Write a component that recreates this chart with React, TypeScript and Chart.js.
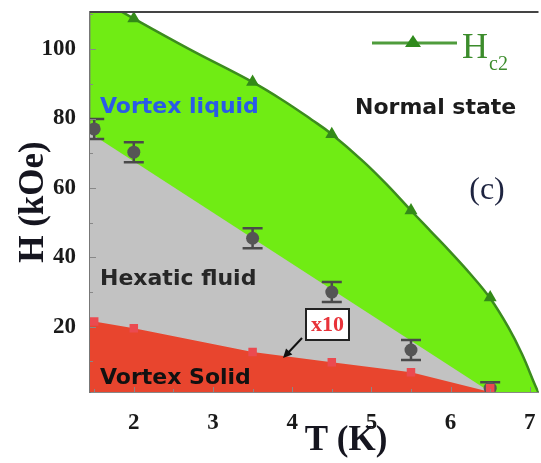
import React, { useEffect, useRef } from "react";
import { Chart, registerables } from "chart.js";

Chart.register(...registerables);

// ---- data ----
const hc2CurveT = [1.45, 2.0, 2.7, 3.5, 3.9, 4.25, 4.5, 4.9, 5.22, 5.5, 5.75, 6.0, 6.25, 6.5, 6.73, 6.9, 7.07, 7.12];
const hc2CurveH = [116, 108.8, 100, 90.5, 85, 79.6, 75.5, 67.6, 60.4, 53.5, 47.5, 41.5, 35.2, 28.2, 19.8, 12.2, 3, 0.5];

const hc2PointT = [2, 3.5, 4.5, 5.5, 6.5];
const hc2PointH = [108.8, 90.5, 75.5, 53.5, 28.4];

const hexaticBoundaryT = [1.447, 6.5];
const hexaticBoundaryH = [75.8, 1.2];

const hexaticT = [1.5, 2, 3.5, 4.5, 5.5, 6.5];
const hexaticH = [77, 70.3, 45.5, 30, 13.3, 2.3];
const hexaticErr = [2.9, 2.9, 2.9, 2.9, 2.9, 1.7];

const solidBoundaryT = [1.447, 1.5, 2, 3.5, 4.5, 5.5, 6.5];
const solidBoundaryH = [22.0, 21.5, 19.6, 12.7, 9.8, 6.9, 1.2];

const solidT = [1.5, 2, 3.5, 4.5, 5.5, 6.5];
const solidH = [21.5, 19.6, 12.7, 9.8, 6.9, 2.3];

const xTickLabels = [2, 3, 4, 5, 6, 7];
const yTickLabels = [20, 40, 60, 80, 100];
const xMinorTicks = [1.5, 2, 2.5, 3, 3.5, 4, 4.5, 5, 5.5, 6, 6.5, 7];
const yMinorTicks = [10, 20, 30, 40, 50, 60, 70, 80, 90, 100, 110];

const X_MIN = 1.447;
const X_MAX = 7.11;
const Y_MIN = 1.2;
const Y_MAX = 110.7;

const GREEN = "#70ec14";
const GRAY = "#c2c2c2";
const RED = "#e8452e";

const zip = (xs: number[], ys: number[]) => xs.map((x, i) => ({ x, y: ys[i] }));

const errorBarPlugin = {
  id: "errorBars",
  beforeDatasetDraw(chart: any, args: any) {
    if (args.index !== 3) return;
    const { ctx, chartArea: ca, scales } = chart;
    const x = scales.x;
    const y = scales.y;
    ctx.save();
    ctx.beginPath();
    ctx.rect(ca.left, ca.top, ca.right - ca.left, ca.bottom - ca.top);
    ctx.clip();
    ctx.strokeStyle = "#4a4a4a";
    ctx.lineWidth = 2.5;
    hexaticT.forEach((t, i) => {
      const px = x.getPixelForValue(t);
      const top = y.getPixelForValue(hexaticH[i] + hexaticErr[i]);
      const bot = y.getPixelForValue(hexaticH[i] - hexaticErr[i]);
      ctx.beginPath();
      ctx.moveTo(px, top);
      ctx.lineTo(px, bot);
      ctx.moveTo(px - 10, top);
      ctx.lineTo(px + 10, top);
      ctx.moveTo(px - 10, bot);
      ctx.lineTo(px + 10, bot);
      ctx.stroke();
    });
    ctx.restore();
  },
};

const annotationPlugin = {
  id: "annotations",
  afterDatasetsDraw(chart: any) {
    const { ctx, chartArea: ca, scales } = chart;
    const x = scales.x;
    const y = scales.y;
    ctx.save();

    // top frame line
    ctx.strokeStyle = "#444";
    ctx.lineWidth = 2;
    ctx.beginPath();
    ctx.moveTo(ca.left, ca.top);
    ctx.lineTo(ca.right, ca.top);
    ctx.stroke();

    // inward ticks
    ctx.strokeStyle = "#888";
    ctx.lineWidth = 1;
    xMinorTicks.forEach((t) => {
      const px = Math.round(x.getPixelForValue(t)) + 0.5;
      const len = Number.isInteger(t) ? 5 : 3;
      ctx.beginPath();
      ctx.moveTo(px, ca.bottom);
      ctx.lineTo(px, ca.bottom - len);
      ctx.stroke();
    });
    yMinorTicks.forEach((v) => {
      if (v > Y_MAX) return;
      const py = Math.round(y.getPixelForValue(v)) + 0.5;
      const len = v % 20 === 0 ? 6 : 3;
      ctx.beginPath();
      ctx.moveTo(ca.left, py);
      ctx.lineTo(ca.left + len, py);
      ctx.stroke();
    });

    // region labels
    ctx.textBaseline = "alphabetic";
    ctx.textAlign = "left";
    ctx.font = "bold 22px 'DejaVu Sans'";
    ctx.fillStyle = "#2a5ae8";
    ctx.fillText("Vortex liquid", 100, 113);
    ctx.fillStyle = "#1c1c1c";
    ctx.fillText("Normal state", 355, 114);
    ctx.fillStyle = "#262626";
    ctx.fillText("Hexatic fluid", 100, 285);
    ctx.fillStyle = "#111";
    ctx.fillText("Vortex Solid", 100, 384);

    // (c)
    ctx.font = "32px 'Liberation Serif'";
    ctx.fillStyle = "#1e2440";
    ctx.textAlign = "center";
    ctx.textBaseline = "middle";
    ctx.fillText("(c)", 487, 191);

    // legend
    ctx.strokeStyle = "#4f9c3c";
    ctx.lineWidth = 3;
    ctx.beginPath();
    ctx.moveTo(372, 43);
    ctx.lineTo(457, 43);
    ctx.stroke();
    ctx.fillStyle = "#2f8a1c";
    ctx.beginPath();
    ctx.moveTo(413, 35);
    ctx.lineTo(421, 47);
    ctx.lineTo(405, 47);
    ctx.closePath();
    ctx.fill();
    ctx.textAlign = "left";
    ctx.textBaseline = "alphabetic";
    ctx.fillStyle = "#3c8c2c";
    ctx.font = "36px 'Liberation Serif'";
    ctx.fillText("H", 462, 58);
    ctx.font = "20px 'Liberation Serif'";
    ctx.fillText("c2", 489, 70);

    // x10 box
    ctx.fillStyle = "#fff";
    ctx.fillRect(306, 309, 43, 31);
    ctx.strokeStyle = "#222";
    ctx.lineWidth = 2;
    ctx.strokeRect(306, 309, 43, 31);
    ctx.fillStyle = "#e8333a";
    ctx.font = "bold 22px 'Liberation Serif'";
    ctx.textAlign = "center";
    ctx.textBaseline = "middle";
    ctx.fillText("x10", 327.5, 325);

    // arrow
    ctx.strokeStyle = "#111";
    ctx.fillStyle = "#111";
    ctx.lineWidth = 2;
    const ax0 = 302, ay0 = 338, ax1 = 283, ay1 = 358;
    ctx.beginPath();
    ctx.moveTo(ax0, ay0);
    ctx.lineTo(ax1 + 4, ay1 - 4);
    ctx.stroke();
    const ang = Math.atan2(ay1 - ay0, ax1 - ax0);
    ctx.beginPath();
    ctx.moveTo(ax1, ay1);
    ctx.lineTo(ax1 - 10 * Math.cos(ang - 0.45), ay1 - 10 * Math.sin(ang - 0.45));
    ctx.lineTo(ax1 - 10 * Math.cos(ang + 0.45), ay1 - 10 * Math.sin(ang + 0.45));
    ctx.closePath();
    ctx.fill();

    // axis titles
    ctx.fillStyle = "#15151f";
    ctx.font = "bold 35px 'Liberation Serif'";
    ctx.textAlign = "center";
    ctx.textBaseline = "middle";
    ctx.fillText("T (K)", 346, 441);
    ctx.save();
    ctx.translate(34, 202);
    ctx.rotate(-Math.PI / 2);
    ctx.fillText("H (kOe)", 0, 0);
    ctx.restore();

    ctx.restore();
  },
};

export default function App() {
  const canvasRef = useRef<HTMLCanvasElement | null>(null);

  useEffect(() => {
    document.body.style.margin = "0";
    const canvas = canvasRef.current;
    if (!canvas) return;
    const chart = new Chart(canvas, {
      type: "scatter",
      data: {
        datasets: [
          {
            label: "Hc2 fit",
            data: zip(hc2CurveT, hc2CurveH),
            showLine: true,
            borderColor: "#3c8c1e",
            borderWidth: 2.5,
            pointRadius: 0,
            fill: "start",
            backgroundColor: GREEN,
            tension: 0.4,
            order: 5,
          } as any,
          {
            label: "hexatic boundary",
            data: zip(hexaticBoundaryT, hexaticBoundaryH),
            showLine: true,
            borderWidth: 0,
            borderColor: GRAY,
            pointRadius: 0,
            fill: "start",
            backgroundColor: GRAY,
            order: 4,
          },
          {
            label: "solid boundary",
            data: zip(solidBoundaryT, solidBoundaryH),
            showLine: true,
            borderWidth: 0,
            borderColor: RED,
            pointRadius: 0,
            fill: "start",
            backgroundColor: RED,
            order: 3,
          },
          {
            label: "hexatic",
            data: zip(hexaticT, hexaticH),
            showLine: false,
            pointStyle: "circle",
            pointRadius: 6.5,
            backgroundColor: "#555",
            borderColor: "#555",
            borderWidth: 0,
            order: 2,
          },
          {
            label: "solid",
            data: zip(solidT, solidH),
            showLine: false,
            pointStyle: "rect",
            pointRadius: 6,
            backgroundColor: "#eb4a50",
            borderWidth: 0,
            order: 1,
          },
          {
            label: "Hc2",
            data: zip(hc2PointT, hc2PointH),
            showLine: false,
            pointStyle: "triangle",
            pointRadius: 7.5,
            backgroundColor: "#338a18",
            borderColor: "#338a18",
            borderWidth: 0,
            order: 0,
          },
        ],
      },
      options: {
        animation: false,
        responsive: false,
        devicePixelRatio: 1,
        layout: { padding: { top: 12, left: 0, right: 0, bottom: 0 } },
        plugins: {
          legend: { display: false },
          tooltip: { enabled: false },
        },
        scales: {
          x: {
            type: "linear",
            min: X_MIN,
            max: X_MAX,
            afterBuildTicks: (s: any) => {
              s.ticks = xTickLabels.map((v) => ({ value: v }));
            },
            afterFit: (s: any) => {
              s.height = 71;
              s.paddingLeft = 0;
              s.paddingRight = 0;
            },
            grid: { display: false },
            border: { display: true, color: "#888", width: 2 },
            ticks: {
              padding: 9,
              color: "#1a1a1a",
              font: { family: "'Liberation Serif'", size: 23, weight: "bold" },
              maxRotation: 0,
            },
          },
          y: {
            type: "linear",
            min: Y_MIN,
            max: Y_MAX,
            afterBuildTicks: (s: any) => {
              s.ticks = yTickLabels.map((v) => ({ value: v }));
            },
            afterFit: (s: any) => {
              s.width = 90;
              s.paddingTop = 0;
              s.paddingBottom = 0;
            },
            grid: { display: false },
            border: { display: true, color: "#777", width: 2 },
            ticks: {
              padding: 6,
              color: "#1a1a1a",
              font: { family: "'Liberation Serif'", size: 23, weight: "bold" },
            },
          },
        },
      },
      plugins: [errorBarPlugin, annotationPlugin],
    });
    return () => chart.destroy();
  }, []);

  return (
    <div style={{ width: 541, height: 463, overflow: "hidden", position: "relative" }}>
      <canvas
        ref={canvasRef}
        width={546}
        height={463}
        style={{ display: "block", width: 546, height: 463 }}
      />
    </div>
  );
}
